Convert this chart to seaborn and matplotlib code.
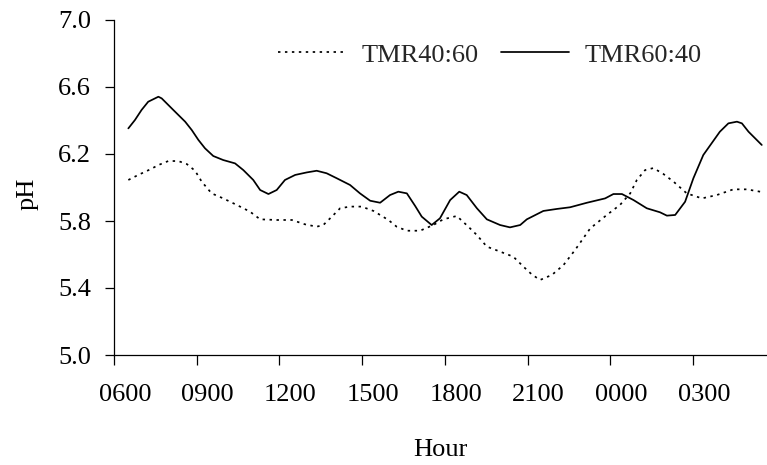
import numpy as np
import pandas as pd
import matplotlib
matplotlib.use("Agg")
import matplotlib.pyplot as plt
import matplotlib.transforms as mtransforms
from matplotlib.lines import Line2D
import seaborn as sns

# ---- data (hours since 00:00 of day 1; values > 24 are next day) ----
hours_6040 = [6.52, 6.76, 7.00, 7.24, 7.61, 7.73, 8.15, 8.58, 8.82, 9.06, 9.30, 9.60,
              9.96, 10.39, 10.69, 11.05, 11.30, 11.60, 11.90, 12.20, 12.57, 12.99,
              13.35, 13.71, 14.08, 14.56, 14.92, 15.29, 15.65, 16.01, 16.31, 16.62,
              16.92, 17.16, 17.52, 17.82, 18.19, 18.52, 18.79, 19.16, 19.52, 20.00,
              20.36, 20.73, 20.97, 21.57, 22.06, 22.54, 23.15, 23.81, 24.11, 24.42,
              24.84, 25.32, 25.80, 26.05, 26.35, 26.71, 27.01, 27.37, 27.97, 28.28,
              28.59, 28.77, 29.01, 29.49]
ph_6040 = [6.353, 6.403, 6.463, 6.512, 6.542, 6.532, 6.463, 6.393, 6.343, 6.284, 6.234,
           6.188, 6.164, 6.144, 6.104, 6.045, 5.985, 5.961, 5.985, 6.045, 6.075, 6.090,
           6.100, 6.085, 6.055, 6.015, 5.965, 5.921, 5.909, 5.955, 5.975, 5.965, 5.890,
           5.826, 5.776, 5.816, 5.925, 5.975, 5.955, 5.876, 5.810, 5.776, 5.762, 5.776,
           5.810, 5.860, 5.872, 5.882, 5.909, 5.935, 5.961, 5.961, 5.925, 5.876, 5.852,
           5.832, 5.836, 5.915, 6.055, 6.194, 6.333, 6.383, 6.393, 6.383, 6.333, 6.254]

hours_4060 = [6.52, 6.88, 7.31, 7.61, 7.97, 8.33, 8.64, 8.94, 9.18, 9.54, 9.96, 10.45,
              10.93, 11.30, 11.90, 12.45, 12.93, 13.35, 13.59, 13.90, 14.20, 14.56,
              14.98, 15.41, 15.95, 16.25, 16.62, 17.10, 17.58, 17.94, 18.43, 18.85,
              19.16, 19.52, 19.94, 20.48, 20.85, 21.15, 21.45, 21.88, 22.30, 22.72,
              23.27, 23.87, 24.35, 24.72, 24.96, 25.26, 25.56, 25.92, 26.29, 26.77,
              27.32, 27.86, 28.46, 28.95, 29.43]
ph_4060 = [6.045, 6.075, 6.108, 6.134, 6.158, 6.158, 6.140, 6.100, 6.035, 5.965, 5.935,
           5.896, 5.856, 5.810, 5.806, 5.806, 5.780, 5.766, 5.776, 5.826, 5.876, 5.886,
           5.886, 5.860, 5.806, 5.766, 5.742, 5.742, 5.776, 5.810, 5.830, 5.766, 5.716,
           5.647, 5.621, 5.587, 5.527, 5.481, 5.448, 5.478, 5.537, 5.627, 5.756, 5.836,
           5.896, 5.965, 6.045, 6.104, 6.116, 6.081, 6.035, 5.965, 5.935, 5.955, 5.989,
           5.989, 5.975]

series_names = ["TMR40:60", "TMR60:40"]
tick_hours = [6, 9, 12, 15, 18, 21, 24, 27]
tick_labels = ["0600", "0900", "1200", "1500", "1800", "2100", "0000", "0300"]
y_ticks = [5.0, 5.4, 5.8, 6.2, 6.6, 7.0]

df = pd.concat([
    pd.DataFrame({"Hour": hours_4060, "pH": ph_4060, "Series": series_names[0]}),
    pd.DataFrame({"Hour": hours_6040, "pH": ph_6040, "Series": series_names[1]}),
], ignore_index=True)

# ---- style ----
sns.set_theme(style="ticks")
plt.rcParams["font.family"] = ["Liberation Serif", "DejaVu Serif"]
FS = 19
DOTS = (1.4, 2.6)

W, H = 767, 465
fig = plt.figure(figsize=(W / 100, H / 100), dpi=100)
ax = fig.add_axes([114 / W, 1 - 355 / H, (W - 114) / W, (355 - 20) / H])

sns.lineplot(data=df, x="Hour", y="pH", hue="Series", style="Series",
             palette={series_names[0]: "black", series_names[1]: "black"},
             dashes={series_names[0]: DOTS, series_names[1]: ""},
             linewidth=1.25, ax=ax, legend=False, sort=True, estimator=None)

ax.set_xlim(6, 29.68)
ax.set_ylim(5.0, 7.0)
ax.set_xticks(tick_hours)
ax.set_xticklabels(tick_labels)
ax.set_yticks(y_ticks)
ax.set_yticklabels([f"{v:.1f}" for v in y_ticks])

for s in ["top", "right"]:
    ax.spines[s].set_visible(False)
for s in ["left", "bottom"]:
    ax.spines[s].set_color("black")
    ax.spines[s].set_linewidth(0.9)

ax.tick_params(axis="y", direction="out", length=6.5, width=0.9, color="black",
               labelsize=FS, pad=10, labelcolor="black")
ax.tick_params(axis="x", direction="out", length=7, width=0.9, color="black",
               labelsize=FS, pad=14, labelcolor="black")

offset = mtransforms.ScaledTranslation(0.11, 0, fig.dpi_scale_trans)
for lab in ax.get_xticklabels():
    lab.set_transform(lab.get_transform() + offset)

ax.set_xlabel("Hour", fontsize=FS, color="black")
ax.set_ylabel("pH", fontsize=FS, color="black")
ax.xaxis.set_label_coords(0.5, -0.25)
ax.yaxis.set_label_coords(-0.115, 0.48)

# legend
handles = [Line2D([], [], color="black", lw=1.25, dashes=DOTS),
           Line2D([], [], color="black", lw=1.25)]
fig.legend(handles, series_names, loc="center left",
           bbox_to_anchor=(278 / W, 1 - 55 / H), ncol=2, frameon=False,
           fontsize=FS, handlelength=2.55, handletextpad=0.6, columnspacing=0.87,
           borderpad=0, borderaxespad=0)

fig.savefig("out.png", dpi=100, facecolor="white")
